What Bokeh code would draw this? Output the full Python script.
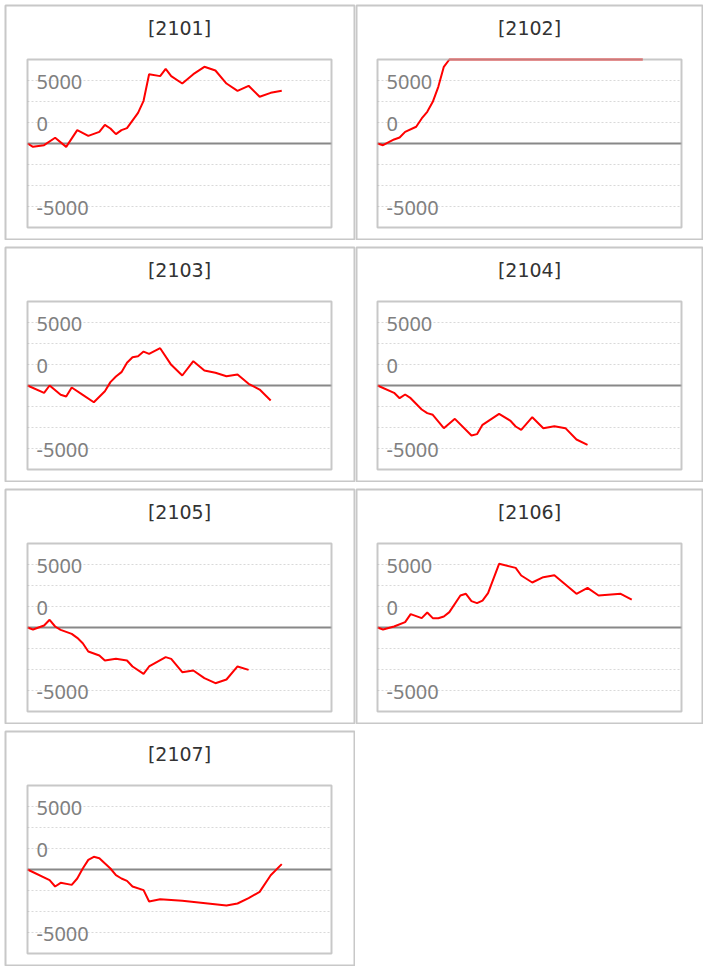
import numpy as np
from bokeh.plotting import figure
from bokeh.models import Range1d, GridBox
from bokeh.core.properties import value
from bokeh.embed import file_html
from bokeh.resources import INLINE

# ---------------- data ----------------
codes = ["2101", "2102", "2103", "2104", "2105", "2106", "2107"]

x_2101 = [0, 1, 3, 5, 7, 9, 11, 13, 14, 15, 16, 17, 18, 20, 21, 22, 24, 25, 26, 28, 30, 32, 34, 36, 38, 40, 42, 44, 46]
y_2101 = [0, -400, -200, 680, -400, 1590, 910, 1390, 2220, 1790, 1110, 1590, 1830, 3650, 5080, 8250, 8020, 8890,
          8020, 7140, 8250, 9130, 8690, 7140, 6270, 6870, 5560, 6030, 6270]

x_2102 = [0, 1, 3, 4, 5, 7, 8, 9, 10, 11, 12, 13, 14, 16, 18, 20, 22, 24, 26, 28, 30, 32, 34, 36, 38, 40, 42, 44, 46, 48]
y_2102 = [0, -200, 480, 710, 1390, 1990, 2980, 3770, 4960, 6750, 9130, 10000, 10000, 10000, 10000, 10000, 10000,
          10000, 10000, 10000, 10000, 10000, 10000, 10000, 10000, 10000, 10000, 10000, 10000, 10000]

x_2103 = [0, 3, 4, 6, 7, 8, 10, 12, 14, 15, 16, 17, 18, 19, 20, 21, 22, 24, 26, 28, 30, 32, 34, 36, 38, 40, 42, 44]
y_2103 = [0, -870, 0, -1110, -1310, -240, -1110, -1990, -680, 400, 1070, 1590, 2700, 3370, 3490, 4040, 3770, 4440,
          2460, 1190, 2900, 1790, 1510, 1110, 1310, 200, -480, -1790]

x_2104 = [0, 3, 4, 5, 6, 8, 9, 10, 12, 14, 17, 18, 19, 22, 24, 25, 26, 28, 30, 32, 34, 36, 38]
y_2104 = [0, -870, -1510, -1070, -1510, -2860, -3290, -3490, -5080, -3970, -5950, -5790, -4680, -3370, -4170, -4880,
          -5280, -3770, -5080, -4840, -5080, -6430, -7060]

x_2105 = [0, 1, 3, 4, 5, 6, 8, 9, 10, 11, 13, 14, 16, 18, 19, 21, 22, 25, 26, 28, 30, 32, 34, 36, 38, 40]
y_2105 = [0, -240, 240, 920, 120, -280, -760, -1230, -1870, -2860, -3330, -3930, -3730, -3930, -4640, -5520, -4640,
          -3530, -3730, -5320, -5120, -6030, -6630, -6190, -4640, -5040]

x_2106 = [0, 1, 3, 5, 6, 8, 9, 10, 11, 12, 13, 15, 16, 17, 18, 19, 20, 22, 25, 26, 28, 30, 32, 34, 36, 38, 40, 44, 46]
y_2106 = [0, -240, 120, 640, 1590, 1110, 1790, 1110, 1110, 1310, 1830, 3810, 4010, 3140, 2900, 3210, 4090, 7580,
          7100, 6190, 5360, 5990, 6230, 5120, 4010, 4720, 3810, 4010, 3330]

x_2107 = [0, 4, 5, 6, 8, 9, 10, 11, 12, 13, 15, 16, 17, 18, 19, 21, 22, 24, 28, 36, 38, 40, 42, 44, 46]
y_2107 = [0, -1270, -2020, -1590, -1830, -1070, 120, 1150, 1510, 1350, 120, -680, -1070, -1350, -2020, -2460,
          -3810, -3530, -3730, -4280, -4050, -3410, -2660, -680, 640]

series_x = [x_2101, x_2102, x_2103, x_2104, x_2105, x_2106, x_2107]
series_y = [y_2101, y_2102, y_2103, y_2104, y_2105, y_2106, y_2107]

grid_ticks = [-7500, -5000, -2500, 2500, 5000, 7500]
label_text = ["5000", "0", "-5000"]
label_y = [7500, 2500, -7500]

X_MIN, X_MAX = 0, 55
Y_MIN, Y_MAX = -10000, 10000

# ---------------- style / geometry (pixels) ----------------
BORDER = "#c8c8c8"
INNER_W, INNER_H = 304, 168      # plot area in px
PANEL_H = 236
COLS = [dict(width=351, left=22), dict(width=348, left=21)]
TOP_PAD = 54                     # inner plot top below panel frame top


def make_panel(code, xs, ys, col):
    g = COLS[col]
    fw = g["width"] - 2          # frame width (min_border 1 each side)
    fh = PANEL_H - 2
    ux = (X_MAX - X_MIN) / INNER_W
    uy = (Y_MAX - Y_MIN) / INNER_H
    right = fw - g["left"] - INNER_W
    bottom = fh - TOP_PAD - INNER_H
    xr = Range1d(X_MIN - g["left"] * ux, X_MAX + right * ux)
    yr = Range1d(Y_MIN - bottom * uy, Y_MAX + TOP_PAD * uy)

    p = figure(width=g["width"], height=PANEL_H, x_range=xr, y_range=yr,
               x_axis_location=None, y_axis_location=None,
               toolbar_location=None, output_backend="svg",
               min_border_left=1, min_border_right=1, min_border_top=1, min_border_bottom=1,
               background_fill_color="white", border_fill_color="white")
    p.outline_line_color = BORDER
    p.outline_line_width = 2
    p.xgrid.visible = False
    p.ygrid.visible = False

    # dotted grid lines inside the plot area
    p.segment(x0=[X_MIN] * len(grid_ticks), x1=[X_MAX] * len(grid_ticks), y0=grid_ticks, y1=grid_ticks,
              line_color="#d9d9d9", line_width=1, line_dash="2 2")
    # zero line
    p.segment(x0=[X_MIN], x1=[X_MAX], y0=[0], y1=[0], line_color="#888888", line_width=2)

    # data line (values beyond the axis are pinned at its limit)
    yc = np.clip(np.array(ys, dtype=float), Y_MIN, Y_MAX)
    p.line(xs, yc, line_color="#ff0000", line_width=2)

    # plot-area border (drawn on top, slightly translucent)
    p.quad(left=[X_MIN], right=[X_MAX], bottom=[Y_MIN], top=[Y_MAX], fill_color=None,
           line_color="#b0b0b0", line_alpha=0.7, line_width=2)

    # value labels inside the plot area
    p.text(x=[X_MIN] * len(label_text), y=label_y, text=label_text,
           x_offset=9, y_offset=1.5, text_align="left", text_baseline="middle",
           text_color="#808080", text_font=value("Noto Sans"), text_font_size="20px")

    # panel title
    p.text(x=[(X_MIN + X_MAX) / 2], y=[Y_MAX], text=["[" + code + "]"],
           y_offset=-31.5, text_align="center", text_baseline="middle",
           text_color="#333333", text_font=value("DejaVu Sans"), text_font_size="19px")
    return p


children = []
for i, code in enumerate(codes):
    r, c = divmod(i, 2)
    children.append((make_panel(code, series_x[i], series_y[i], c), r, c))

layout = GridBox(children=children, spacing=(6, 0),
                 styles={"margin-left": "4px", "margin-top": "4px"})

open("out.html", "w").write(file_html(layout, INLINE))
